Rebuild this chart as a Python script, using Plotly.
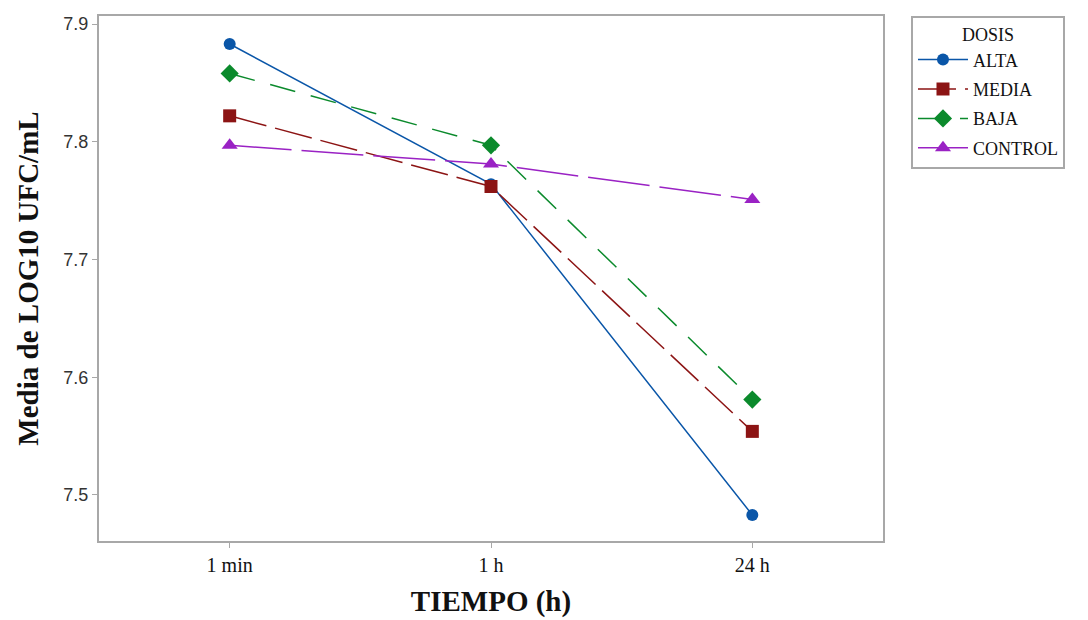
import plotly.graph_objects as go

categories = ["1 min", "1 h", "24 h"]
series_names = ["ALTA", "MEDIA", "BAJA", "CONTROL"]
alta = [7.883, 7.764, 7.483]
media = [7.822, 7.762, 7.554]
baja = [7.858, 7.797, 7.581]
control = [7.797, 7.781, 7.751]
y_ticks = [7.5, 7.6, 7.7, 7.8, 7.9]

values = [alta, media, baja, control]
colors = ["#0a56a8", "#8c1414", "#0b8a2c", "#9a22c4"]
symbols = ["circle", "square", "diamond", "triangle-up"]
sizes = [12, 13, 14, 14]
dashes = ["solid", "38px,9px", "26px,16px", "62px,10px"]

fig = go.Figure()
for name, vals, c, s, sz, d in zip(series_names, values, colors, symbols, sizes, dashes):
    fig.add_trace(go.Scatter(
        x=categories, y=vals, name=name, mode="lines+markers", legendgroup=name,
        line=dict(color=c, width=1.5, dash=d),
        marker=dict(symbol=s, size=sz, color=c, line=dict(width=0)),
    ))

fig.update_layout(
    width=1088, height=620,
    margin=dict(l=99, r=205, t=16, b=79),
    plot_bgcolor="white", paper_bgcolor="white",
    font=dict(family="Liberation Serif", color="#111111"),
    showlegend=True,
    legend=dict(
        x=1.0357, y=1.0, xanchor="left", yanchor="top",
        bordercolor="#a8a8a8", borderwidth=2,
        bgcolor="white",
        font=dict(family="Liberation Serif", size=18, color="#111111"),
        title=dict(text="DOSIS", side="top center",
                   font=dict(family="Liberation Serif", size=18, color="#111111")),
        itemwidth=50, tracegroupgap=3,
    ),
    xaxis=dict(
        type="category", range=[-0.5, 2.5], automargin=False,
        showline=True, mirror=True, linecolor="#a8a8a8", linewidth=2,
        ticks="outside", ticklen=5, tickcolor="#a8a8a8", tickwidth=1,
        showgrid=False, zeroline=False,
        tickfont=dict(family="Liberation Serif", size=20, color="#111111"),
        title=dict(text="<b>TIEMPO (h)</b>", standoff=16,
                   font=dict(family="Liberation Serif", size=29, color="#111111")),
    ),
    yaxis=dict(
        range=[7.4609, 7.9068], automargin=False,
        tickvals=y_ticks, ticktext=[f"{v:.1f}" for v in y_ticks],
        showline=True, mirror=True, linecolor="#a8a8a8", linewidth=2,
        ticks="outside", ticklen=5, tickcolor="#a8a8a8", tickwidth=1,
        showgrid=False, zeroline=False,
        tickfont=dict(family="Liberation Sans", size=18, color="#333333"),
        title=dict(text="<b>Media de LOG10 UFC/mL</b>", standoff=16,
                   font=dict(family="Liberation Serif", size=29, color="#111111")),
    ),
)

fig.write_html("out.html")
